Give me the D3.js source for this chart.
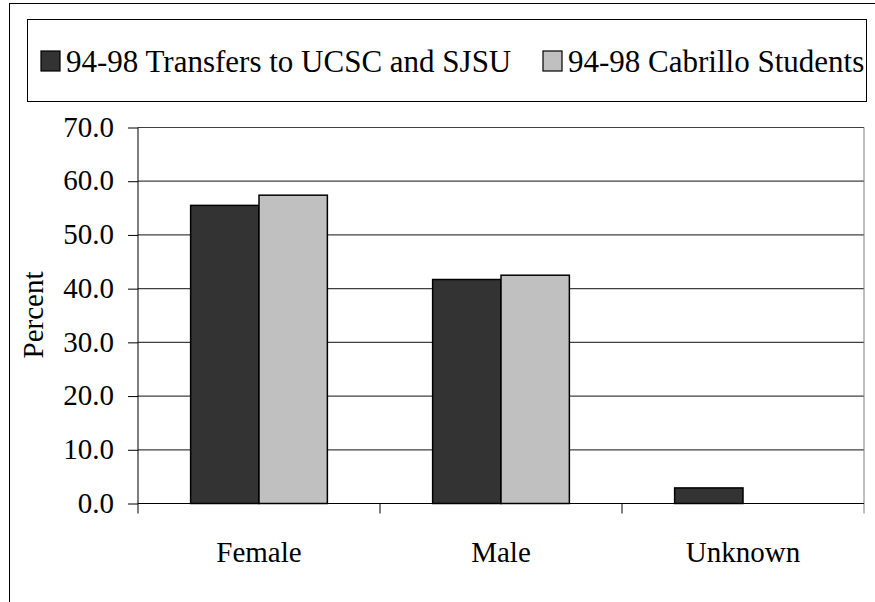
<!DOCTYPE html>
<html>
<head>
<meta charset="utf-8">
<script src="https://cdn.jsdelivr.net/npm/d3@7"></script>
<style>
  body { margin: 0; background: #fff; }
  text { font-family: "Liberation Serif", "Times New Roman", serif; fill: #000; }
</style>
</head>
<body>
<script>
var categories = ["Female", "Male", "Unknown"];
var series = ["94-98 Transfers to UCSC and SJSU", "94-98 Cabrillo Students"];
var transfers = [55.5, 41.7, 2.9];
var cabrillo = [57.4, 42.5, 0];
var yTicks = [0, 10, 20, 30, 40, 50, 60, 70];

var colors = ["#333333", "#c0c0c0"];
var width = 875, height = 602;

var svg = d3.select("body").append("svg")
  .attr("width", width)
  .attr("height", height);

// outer frame
svg.append("rect")
  .attr("x", 9.5).attr("y", 3.5)
  .attr("width", 900).attr("height", 700)
  .attr("fill", "none")
  .attr("stroke", "#000");

var plotLeft = 138, plotRight = 864, plotTop = 127.5, plotBottom = 503.5;

var y = d3.scaleLinear()
  .domain([0, 70])
  .range([plotBottom, plotTop]);

var x0 = d3.scaleBand()
  .domain(categories)
  .range([plotLeft, plotRight]);

var gap = x0.bandwidth() * 0.2175;
var x1 = d3.scaleBand()
  .domain(series)
  .range([gap, x0.bandwidth() - gap]);

// gridlines
svg.append("g")
  .selectAll("line")
  .data(yTicks.slice(1))
  .enter().append("line")
  .attr("x1", plotLeft).attr("x2", plotRight)
  .attr("y1", function (d) { return y(d); })
  .attr("y2", function (d) { return y(d); })
  .attr("stroke", "#404040")
  .attr("stroke-width", 1.2);

// right border of plot area
svg.append("line")
  .attr("x1", plotRight).attr("x2", plotRight)
  .attr("y1", plotTop).attr("y2", plotBottom + 10)
  .attr("stroke", "#808080");

var rows = categories.map(function (c, i) {
  return { cat: c, vals: [transfers[i], cabrillo[i]] };
});

var groups = svg.append("g")
  .selectAll("g")
  .data(rows)
  .enter().append("g")
  .attr("transform", function (d) { return "translate(" + x0(d.cat) + ",0)"; });

groups.selectAll("rect")
  .data(function (d) {
    return d.vals.map(function (v, j) { return { s: series[j], v: v, j: j }; })
      .filter(function (e) { return e.v > 0; });
  })
  .enter().append("rect")
  .attr("x", function (d) { return x1(d.s); })
  .attr("width", x1.bandwidth())
  .attr("y", function (d) { return y(d.v); })
  .attr("height", function (d) { return plotBottom - y(d.v); })
  .attr("fill", function (d) { return colors[d.j]; })
  .attr("stroke", "#000")
  .attr("stroke-width", 1.5);

// y axis
var yAxis = svg.append("g")
  .attr("transform", "translate(" + plotLeft + ",0)")
  .call(d3.axisLeft(y).tickValues(yTicks).tickSize(10).tickPadding(14)
    .tickFormat(d3.format(".1f")));
yAxis.select(".domain").remove();
yAxis.selectAll(".tick line").attr("stroke", "#000");
yAxis.selectAll("text")
  .attr("font-size", "29px")
  .attr("font-family", "Liberation Serif")
  .attr("dy", "0.3em");
yAxis.append("line")
  .attr("x1", 0).attr("x2", 0)
  .attr("y1", plotTop).attr("y2", plotBottom + 10)
  .attr("stroke", "#000");

// x axis line and category ticks
svg.append("line")
  .attr("x1", plotLeft).attr("x2", plotRight)
  .attr("y1", plotBottom).attr("y2", plotBottom)
  .attr("stroke", "#000");

svg.append("g")
  .selectAll("line")
  .data(categories.slice(1))
  .enter().append("line")
  .attr("x1", function (d) { return x0(d); })
  .attr("x2", function (d) { return x0(d); })
  .attr("y1", plotBottom).attr("y2", plotBottom + 10)
  .attr("stroke", "#000");

svg.append("g")
  .selectAll("text")
  .data(categories)
  .enter().append("text")
  .attr("x", function (d) { return x0(d) + x0.bandwidth() / 2; })
  .attr("y", 562)
  .attr("text-anchor", "middle")
  .attr("font-size", "29px")
  .text(function (d) { return d; });

// y title
svg.append("text")
  .attr("transform", "translate(43,315) rotate(-90)")
  .attr("text-anchor", "middle")
  .attr("font-size", "29px")
  .text("Percent");

// legend
svg.append("rect")
  .attr("x", 27.5).attr("y", 19.5)
  .attr("width", 839).attr("height", 82)
  .attr("fill", "#fff")
  .attr("stroke", "#000");

var legendX = [41, 543];
var leg = svg.append("g")
  .selectAll("g")
  .data(series)
  .enter().append("g")
  .attr("transform", function (d, i) { return "translate(" + legendX[i] + ",0)"; });

leg.append("rect")
  .attr("x", 0).attr("y", 51)
  .attr("width", 19).attr("height", 20)
  .attr("fill", function (d, i) { return colors[i]; })
  .attr("stroke", "#000")
  .attr("stroke-width", 1.2);

leg.append("text")
  .attr("x", 25).attr("y", 72)
  .attr("font-size", "31px")
  .text(function (d) { return d; });
</script>
</body>
</html>
